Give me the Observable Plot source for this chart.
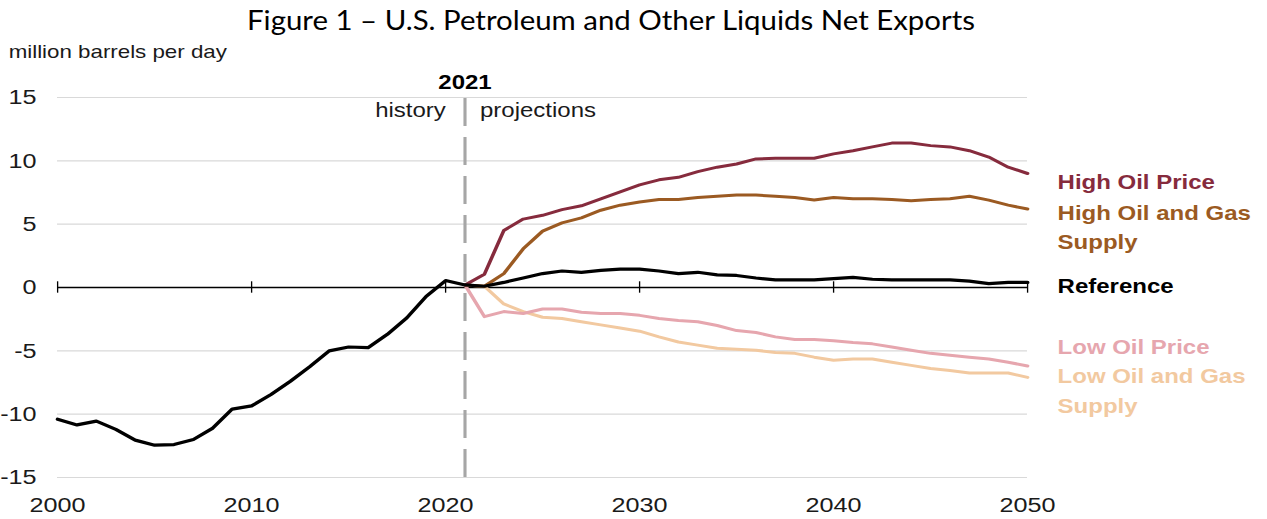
<!DOCTYPE html>
<html><head><meta charset="utf-8">
<script src="https://cdn.jsdelivr.net/npm/d3@7"></script>
<script src="https://cdn.jsdelivr.net/npm/@observablehq/plot@0.6"></script>
<style>
body{margin:0;background:#fff;width:1267px;height:519px;overflow:hidden;position:relative}
#title{position:absolute;left:247px;top:0;height:40px;line-height:40px;font-family:Lato,"Open Sans",sans-serif;font-size:26px;white-space:nowrap;transform-origin:left center;color:#000}
#chart{position:absolute;left:0;top:40px;transform-origin:left top}
</style></head>
<body>
<div id="title">Figure 1 – U.S. Petroleum and Other Liquids Net Exports</div>
<div id="chart"></div>
<script>
const titleText = "Figure 1 – U.S. Petroleum and Other Liquids Net Exports";
const unitLabel = "million barrels per day";

const histYears = [2000,2001,2002,2003,2004,2005,2006,2007,2008,2009,2010,2011,2012,2013,2014,2015,2016,2017,2018,2019,2020,2021];
const histValues = [-10.4,-10.85,-10.55,-11.2,-12.05,-12.45,-12.4,-12.0,-11.1,-9.6,-9.35,-8.45,-7.4,-6.25,-5.0,-4.7,-4.75,-3.7,-2.4,-0.7,0.55,0.2];

const projYears = [2021,2022,2023,2024,2025,2026,2027,2028,2029,2030,2031,2032,2033,2034,2035,2036,2037,2038,2039,2040,2041,2042,2043,2044,2045,2046,2047,2048,2049,2050];
const referenceProj = [0.2,0.1,0.4,0.75,1.1,1.3,1.2,1.35,1.45,1.45,1.3,1.1,1.2,1.0,0.95,0.75,0.6,0.6,0.6,0.7,0.8,0.65,0.6,0.6,0.6,0.6,0.5,0.3,0.4,0.4];
const highOilPrice = [0.2,1.05,4.5,5.4,5.7,6.15,6.45,7.0,7.55,8.1,8.5,8.7,9.15,9.5,9.75,10.15,10.2,10.2,10.2,10.55,10.8,11.1,11.4,11.4,11.2,11.1,10.8,10.3,9.5,9.0];
const highSupply = [0.2,0.1,1.1,3.05,4.45,5.1,5.5,6.1,6.5,6.75,6.95,6.95,7.1,7.2,7.3,7.3,7.2,7.1,6.9,7.1,7.0,7.0,6.95,6.85,6.95,7.0,7.2,6.9,6.5,6.2];
const lowOilPrice = [0.2,-2.3,-1.9,-2.05,-1.7,-1.7,-1.95,-2.05,-2.05,-2.2,-2.45,-2.6,-2.7,-3.0,-3.4,-3.55,-3.9,-4.1,-4.1,-4.2,-4.35,-4.45,-4.7,-4.95,-5.2,-5.35,-5.5,-5.65,-5.9,-6.2];
const lowSupply = [0.2,0.1,-1.3,-1.9,-2.35,-2.45,-2.7,-2.95,-3.2,-3.45,-3.9,-4.3,-4.55,-4.8,-4.87,-4.95,-5.13,-5.2,-5.5,-5.75,-5.65,-5.65,-5.9,-6.15,-6.4,-6.55,-6.75,-6.75,-6.75,-7.1];

const seriesNames = ["Low Oil and Gas Supply","Low Oil Price","High Oil and Gas Supply","High Oil Price"];
const seriesValues = [lowSupply, lowOilPrice, highSupply, highOilPrice];
const seriesColors = ["#f2c9a0","#e6a6ae","#9b5a22","#862b3d"];
const referenceColor = "#000000";

const labelTexts = ["High Oil Price","High Oil and Gas\nSupply","Reference","Low Oil Price","Low Oil and Gas\nSupply"];
const labelColors = ["#862b3d","#9b5a22","#000000","#e6a6ae","#f2c9a0"];

const xTicks = [2000,2010,2020,2030,2040,2050];
const yTicks = [-15,-10,-5,0,5,10,15];
const gridTicks = [-15,-10,-5,5,10,15];
const boundaryYear = 2021;
const boundaryLabel = "2021";
const historyLabel = "history";
const projLabel = "projections";

// tidy rows
const scenarioRows = seriesNames.flatMap((name, i) => projYears.map((yr, j) => ({series: name, year: yr, value: seriesValues[i][j]})));
const referenceRows = histYears.map((yr, j) => ({year: yr, value: histValues[j]}))
  .concat(projYears.slice(1).map((yr, j) => ({year: yr, value: referenceProj[j + 1]})));

const S = 1.2; // horizontal stretch of the reference picture
const W = 1267 / S;
const left = 57 / S, right = 1027 / S;
const labelDy = [139, 184.5, 243, 304, 348];

const font = "'Liberation Sans', Arial, sans-serif";

const chart = Plot.plot({
  width: W,
  height: 479,
  marginLeft: left,
  marginRight: W - right,
  marginTop: 57,
  marginBottom: 42,
  x: {domain: [xTicks[0], xTicks[xTicks.length - 1]]},
  y: {domain: [yTicks[0], yTicks[yTicks.length - 1]]},
  color: {domain: seriesNames, range: seriesColors},
  style: {fontFamily: font, fontSize: "21px", color: "#1a1a1a", background: "#fff", overflow: "visible"},
  marks: [
    Plot.gridY(gridTicks, {stroke: "#d9d9d9", strokeOpacity: 1, strokeWidth: 1.2}),
    Plot.axisY({ticks: yTicks, tickSize: 0, tickPadding: 17.5, tickFormat: d => String(d), label: null, fontSize: 21}),
    Plot.axisX({ticks: xTicks, tickSize: 0, tickPadding: 20, tickFormat: d => String(d), label: null, fontSize: 21}),
    Plot.ruleX([boundaryYear], {y1: yTicks[0], y2: yTicks[yTicks.length - 1], stroke: "#a6a6a6", strokeWidth: 2.6, strokeDasharray: "28,11"}),
    Plot.ruleY([0], {stroke: "#000", strokeWidth: 1.3}),
    Plot.ruleX(xTicks, {x: d => d, y1: -0.45, y2: 0.45, stroke: "#000", strokeWidth: 1.1}),
    Plot.line(scenarioRows, {x: "year", y: "value", z: "series", stroke: "series", strokeWidth: 3, curve: "linear"}),
    Plot.line(referenceRows, {x: "year", y: "value", stroke: referenceColor, strokeWidth: 3.2}),
    Plot.text([boundaryLabel], {x: () => boundaryYear, text: d => d, frameAnchor: "top", lineAnchor: "middle", dy: -15, fontWeight: "bold", fontSize: 20, fill: "#000"}),
    Plot.text([historyLabel], {x: () => boundaryYear, text: d => d, frameAnchor: "top", lineAnchor: "middle", textAnchor: "end", dx: -16, dy: 13, fontSize: 20, fill: "#1a1a1a"}),
    Plot.text([projLabel], {x: () => boundaryYear, text: d => d, frameAnchor: "top", lineAnchor: "middle", textAnchor: "start", dx: 12.5, dy: 13, fontSize: 20, fill: "#1a1a1a"}),
    Plot.text([unitLabel], {text: d => d, frameAnchor: "top-left", lineAnchor: "middle", textAnchor: "start", dx: 6.7 - left, dy: 12 - 57, fontSize: 18.6, fill: "#1a1a1a"}),
    ...labelTexts.map((t, i) => Plot.text([t], {text: d => d, frameAnchor: "top-right", lineAnchor: "middle", textAnchor: "start", dx: (1057 - 1027) / S, dy: labelDy[i] - 57, fontSize: 20, fontWeight: "bold", lineHeight: 1.475, fill: labelColors[i]}))
  ]
});
const holder = document.getElementById("chart");
holder.appendChild(chart);
holder.style.transform = `scaleX(${S})`;

const t = document.getElementById("title");
t.textContent = titleText;
const tw = t.getBoundingClientRect().width;
t.style.transform = `scaleX(${728 / tw})`;
</script>
</body></html>
